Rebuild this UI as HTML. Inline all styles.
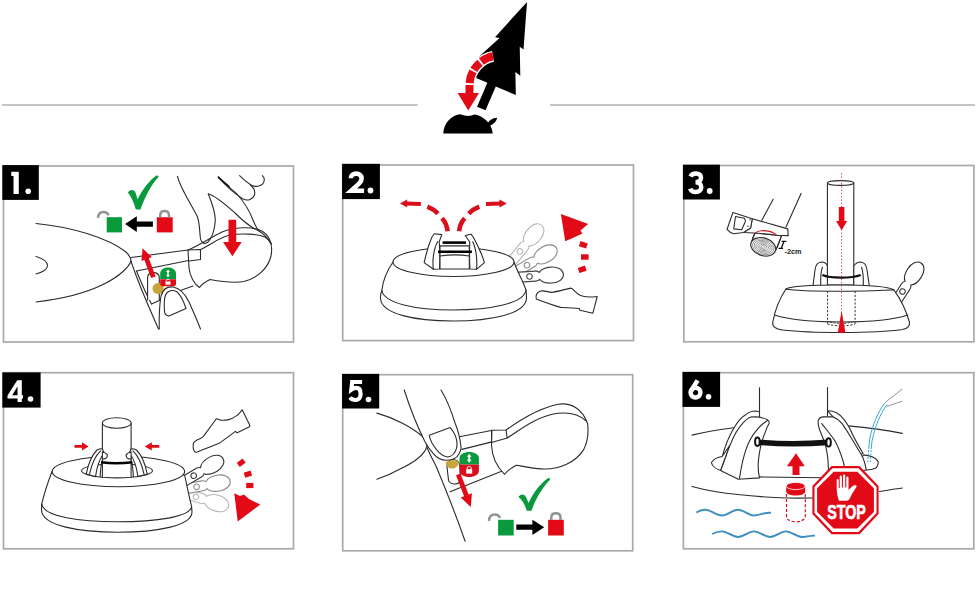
<!DOCTYPE html>
<html>
<head>
<meta charset="utf-8">
<style>
html,body{margin:0;padding:0;background:#fff;}
body{width:977px;height:598px;overflow:hidden;font-family:"Liberation Sans",sans-serif;}
svg{display:block;}
.num{font-family:"Liberation Sans",sans-serif;font-weight:bold;fill:#fff;font-size:30px;}
.ln{fill:none;stroke:#2b2b2b;stroke-width:1.1;stroke-linecap:round;stroke-linejoin:round;}
.lw{fill:#fff;stroke:#2b2b2b;stroke-width:1.1;stroke-linecap:round;stroke-linejoin:round;}
.box{fill:none;stroke:#a9a9a9;stroke-width:1.7;}
.red{fill:#e30a17;}
</style>
</head>
<body>
<svg width="977" height="598" viewBox="0 0 977 598">
<defs><path id="lev" d="M-5,14 L-5,-6 C-5,-8 -4.5,-9 -3.5,-10 C-7,-12.5 -8,-17 -8,-22 C-8,-29 -4.5,-34 0,-34 C4.5,-34 8,-29 8,-22 C8,-17 7,-12.5 3.5,-10 C4.5,-9 5,-8 5,-6 L5,14"/></defs>
<!-- HEADER -->
<g id="header">
<line x1="2" y1="105" x2="417.5" y2="105" stroke="#c4c4c4" stroke-width="2"/>
<line x1="550" y1="105" x2="975" y2="105" stroke="#c4c4c4" stroke-width="2"/>
<g transform="translate(481.2,108.5) rotate(23.27)">
<polygon fill="#000" points="0,-116 15.5,-71 11,-72 23,-45.5 17,-47 26.5,-26 4.7,-26 4.7,0 -4.5,0 -4.5,-26 -26.5,-26 -17,-47 -23,-45.5 -11,-72 -15.5,-71"/>
</g>
<path d="M443.2,133.5 C444,122 452,115 460.3,114.2 Q468,117.5 474.7,114.5 C484,116 492,124 492.7,133.5 Z" fill="#000"/>
<path d="M486.5,125.5 C488.5,120.5 492.5,118 497.2,117.8 C496.5,121.5 493,124.8 488,126.5 Z" fill="#000"/>
<path d="M493,56.3 C481,58.5 470,70 469.5,84 L469.5,92" fill="none" stroke="#fff" stroke-width="11"/>
<path d="M493,56.3 C481,58.5 470,70 469.5,84 L469.5,94" fill="none" stroke="#e30a17" stroke-width="8" stroke-dasharray="12.85 1.8 9.45 1.8 12.2 1.8 30 0"/>
<polygon class="red" points="457.6,93 479,93 468.3,110.6"/>
</g>

<!-- PANEL BORDERS -->
<rect class="box" x="3.5" y="166" width="290" height="176"/>
<rect class="box" x="342.7" y="165" width="290.8" height="175.6"/>
<rect class="box" x="683.9" y="165.5" width="290" height="176.3"/>
<rect class="box" x="3.5" y="372.7" width="290" height="176.1"/>
<rect class="box" x="342.7" y="374.7" width="290" height="176.1"/>
<rect class="box" x="683.4" y="372.7" width="290.4" height="176.1"/>

<!-- NUMBER BOXES -->
<rect x="2.3" y="165.1" width="36.5" height="34.8" fill="#000"/>
<path d="M11.3,171.7 L18.8,171.7 L18.8,193.9 L13.5,193.9 L13.5,176 L11.3,176 Z" fill="#fff"/>
<circle cx="28.2" cy="191.2" r="2.8" fill="#fff"/>
<rect x="342.1" y="163.8" width="37.8" height="35.3" fill="#000"/>
<path d="M350.8,178.2 C350.8,175 353.2,173.6 356.2,173.6 C359.5,173.6 361.6,175.5 361.6,178.5 C361.6,181.5 359.5,183.5 351.2,190.8 L364.1,190.8" fill="none" stroke="#fff" stroke-width="4.6"/>
<circle cx="370.5" cy="190.5" r="2.9" fill="#fff"/>
<rect x="682.9" y="164.7" width="37" height="34.8" fill="#000"/>
<path d="M690.5,176.5 C691.5,174.2 693.5,173.4 696,173.4 C699,173.4 701,175 701,177.8 C701,180.5 698.8,182.2 695.5,182.2 M695.5,182.2 C699.2,182.2 701.3,184.5 701.3,187.3 C701.3,190.2 699,192 695.8,192 C693,192 690.9,190.8 690.2,188.6" fill="none" stroke="#fff" stroke-width="4.5"/>
<circle cx="709.7" cy="191" r="2.9" fill="#fff"/>
<rect x="2.3" y="372.4" width="38.3" height="35.2" fill="#000"/>
<path fill-rule="evenodd" d="M17.2,380.2 L21.8,380.2 L21.8,395.2 L23,395.2 L23,398.6 L21.8,398.6 L21.8,402 L17.5,402 L17.5,398.6 L7.5,398.6 L7.5,395.4 Z M17.5,386.5 L12.2,395.2 L17.5,395.2 Z" fill="#fff"/>
<circle cx="30.5" cy="399" r="2.8" fill="#fff"/>
<rect x="342.1" y="373.9" width="37.1" height="34.6" fill="#000"/>
<path d="M362.1,382 L352.2,382 L351.4,389.5 C353,388.3 354.8,387.8 356.3,387.8 C359.3,387.8 360.6,390.3 360.6,394 C360.6,397.7 358.6,400 355.6,400 C353,400 351.2,399 350,397.5" fill="none" stroke="#fff" stroke-width="4.2"/>
<circle cx="368.5" cy="399.5" r="2.8" fill="#fff"/>
<rect x="682.5" y="371.9" width="37.6" height="35" fill="#000"/>
<circle cx="695.5" cy="392.6" r="4.9" fill="none" stroke="#fff" stroke-width="4.5"/>
<path d="M697.6,380.4 L691.2,390.8" fill="none" stroke="#fff" stroke-width="4.5"/>
<circle cx="708.5" cy="396.7" r="2.8" fill="#fff"/>

<!-- PANELS -->
<g id="p1">
<!-- lens -->
<path class="ln" d="M36,223.5 C72,227 108,238 126,252 C129,255 131,258 131,261 C129,267 120,276 104,284 C86,293 62,299 36,302"/>
<path class="ln" d="M36,256.5 C44,259 47.5,262.5 47.5,265.5 C47.5,268.5 43,272 36,274"/>
<!-- rails -->
<path class="ln" d="M131,257.5 L188,250"/>
<path class="ln" d="M136.5,271 L188.5,260.5"/>
<path class="ln" d="M131,261 C138,283 148,305 158.5,329"/>
<path class="ln" d="M136.5,271 C141,282 146,294 151.5,304"/>
<path class="ln" d="M151.5,304 L164,298.5"/>
<path class="ln" d="M179,291 L193,286"/>
<!-- paddle -->
<path class="lw" d="M188,250 C196,247 210,238 222,232 C234,227 252,226 262,231 C270,236 273,245 271,256 C268,268 258,278 244,281.5 C232,283.5 218,281 210,279.5 C205,282 201,285 199.5,287.5 C194,284 190,276 189,268 Z"/>
<path class="ln" d="M200.5,249.5 C212,244 220,237 230,235 C242,233 258,234 265,237 C268,239 270,241 271.5,244"/>
<path class="ln" d="M188,250 L200.5,249.5 L200.5,259.5 L189,261"/>
<!-- hand -->
<path class="ln" d="M177.4,176.4 C181,190 192,205 197.5,217 C200,225 199.5,232 200.5,239 C201.5,243.5 205,244.5 208,242 C212,238 214.5,230 215.3,221 C215.5,212 212,203 208.2,193.8 C216,196 226,205 235,213 C244,222 252,228 259,231 C264,234 268,238 271,244"/>
<path class="ln" d="M218.2,177 C226,185 234,191 237,194 C244,202 250,212 253,220 C255,225 257,229 259,231"/>
<path class="ln" d="M218.2,177 C225,185 235,194 243,199 C248,201.5 253,199 254.5,195 C255.5,191 253,187 250.3,185"/>
<path class="ln" d="M239.6,175.7 C244,180 248,183.5 252,185.5 C257,187.5 262,186 263.7,182.4 C264.5,180 264.5,177 262.4,175.7"/>
<path d="M218.6,177.4 L229,186.5" stroke="#111" stroke-width="1.5" stroke-linecap="round"/>
<!-- red arrow down -->
<path class="red" d="M228.5,219.8 L236.2,219.8 L236.2,241.9 L241.7,241.9 L232.4,256.2 L223,241.9 L228.5,241.9 Z"/>
<!-- slot + gold -->
<path class="lw" d="M147.6,300 L147.6,278 C147.6,274 150.5,272.6 153.4,272.6 C156.3,272.6 159.3,274 159.3,278 L159.3,300"/>
<circle cx="158.1" cy="288.5" r="5.6" fill="#c9a43b"/>
<!-- green/red slider -->
<path d="M160.2,279.3 L160.2,273.5 C160.2,270 163.5,267.6 168,267.6 C172.5,267.6 176,270 176,273.5 L176,279.3 Z" fill="#089a3d"/>
<path d="M160.2,279.3 L176,279.3 L176,284 C176,285.5 174.5,286.3 173,286.3 L163,286.3 C161.5,286.3 160.2,285.5 160.2,284 Z" fill="#e30a17"/>
<path d="M168,269.5 L170,272 L168.8,272 L168.8,275 L170,275 L168,277.5 L166,275 L167.2,275 L167.2,272 L166,272 Z" fill="#fff"/>
<rect x="165.5" y="281.5" width="5" height="3.2" fill="#fff"/>
<path d="M166.3,281.5 L166.3,280.3 C166.3,279 169.7,279 169.7,280.3" fill="none" stroke="#fff" stroke-width="0.9"/>
<!-- red arrow up-left -->
<g transform="translate(142.6,248.2) rotate(-20.3)"><path class="red" d="M0,0 L5.5,11.5 L2.4,11.5 L2.4,31 L-2.4,31 L-2.4,11.5 L-5.5,11.5 Z"/></g>
<!-- thumb -->
<path class="lw" d="M159.3,329 C159,318 159.5,305 161,296 C163,289 168,286.5 173,287 C180,288 185,294 189,302 C193,311 197,320 200.5,329"/>
<path class="ln" d="M164.5,311 C164,304 164,299 165.5,295 C167.5,290.5 172.5,289.5 176.5,291.5 C180,294 183.5,301 186,308.5 L169,316 C166,315.5 164.5,314 164.5,311 Z"/>
<!-- check -->
<path d="M128,192.5 C129.5,189.5 133.5,189 135.5,192.5 L137.5,199.5 C142,190 149,181 156,175.8 C157.5,174.8 159,175.8 158.3,177.3 C151,185 145,197 140.5,209.5 L135.8,209.5 C134,203 131.5,197 128,192.5 Z" fill="#089a3d"/>
<!-- open lock green -->
<rect x="106.7" y="217.2" width="15.3" height="15.2" fill="#089a3d"/>
<path d="M98,217.8 C98.3,213.8 100.5,212 103.3,212 C106,212 107.8,213.2 108.6,215.2" fill="none" stroke="#939393" stroke-width="2.5"/>
<!-- black arrow left -->
<path d="M152.9,221.5 L136.8,221.5 L136.8,216.3 L125,224.1 L136.8,232 L136.8,226.8 L152.9,226.8 Z" fill="#000"/>
<!-- red lock -->
<rect x="156.8" y="217.2" width="15.9" height="15.2" fill="#e30a17"/>
<path d="M160.2,217.5 L160.2,215.5 C160.2,212 162,211 164.6,211 C167.2,211 169,212 169,215.5 L169,217.5" fill="none" stroke="#939393" stroke-width="2.5"/>
</g>
<g id="p2">
<!-- levers (behind stand) -->
<g transform="translate(520.0,251.4) rotate(39.5)"><use href="#lev" fill="#fff" stroke="#b5b5b5" stroke-width="1.1"/><circle cx="0" cy="0" r="2.8" fill="none" stroke="#b5b5b5" stroke-width="1.1"/></g>
<g transform="translate(527.0,265.2) rotate(59.8)"><use href="#lev" fill="#fff" stroke="#8a8a8a" stroke-width="1.1"/><circle cx="0" cy="0" r="2.8" fill="none" stroke="#8a8a8a" stroke-width="1.1"/></g>
<g transform="translate(529.5,276.5) rotate(86.3)"><use href="#lev" fill="#fff" stroke="#444" stroke-width="1.1"/><circle cx="0" cy="0" r="2.8" fill="none" stroke="#444" stroke-width="1.1"/></g>
<!-- stand -->
<path class="lw" d="M393,262 C387.5,270 383,280 381.8,290.5 C380.5,294 380.3,297 380.6,299 C382,314 415,321 453,321 C491,321 526,314 526.5,298 C526.5,295 526.3,292.5 526,290 C523,281 517,271 514,262 Z"/>
<ellipse class="lw" cx="453.5" cy="262" rx="60.5" ry="14.5"/>
<path class="ln" d="M381.8,290.5 C384,303 415,310 453,310 C491,310 524,303.5 526,290"/>
<!-- clamp -->
<path class="lw" d="M424.2,262.6 C426,254 429,244 431.7,237.5 L434.2,233.8 L441.8,234.6 L439.2,241.7 C440,250 440,262 439.5,269 L433.4,269.3 Z"/>
<path class="lw" d="M484.4,262.6 C482,254 477,244 473.5,237.5 L471,234.2 L465.2,235.5 L469.8,242 C469.5,250 469.5,262 470,269 L476.5,269.3 Z"/>
<path class="lw" d="M440,245.9 L469.3,245.9 L469.3,269 L440,269 Z"/>
<path class="ln" d="M440,256 C450,254.5 460,254.5 469.3,256"/>
<path class="ln" d="M433.4,269.3 C432,260 434,248 437.6,241.7"/>
<path class="ln" d="M476.5,269.3 C477.5,260 476,248 472.7,241.7"/>
<path d="M442.6,242.6 L466,242.6" stroke="#000" stroke-width="2.6"/>
<path d="M438,251.8 L471.9,251.8" stroke="#000" stroke-width="2.6"/>
<!-- red dashed arcs -->
<g fill="none" stroke="#d9101c" stroke-width="4.6">
<path d="M447.6,231.2 C447,226 445,221.5 442,218.3"/>
<path d="M438,213.6 C435,210.6 431.5,208.4 427.4,206.7"/>
<path d="M420.8,204 L406,203.6" stroke-width="4"/>
<path d="M459.1,231.2 C459.7,226 461.7,221.5 464.7,218.3"/>
<path d="M468.7,213.6 C471.7,210.6 475.2,208.4 479.3,206.7"/>
<path d="M485.9,204 L500.7,203.6" stroke-width="4"/>
</g>
<polygon fill="#d9101c" points="399.9,203.6 407.2,199.6 407.2,207.6"/>
<polygon fill="#d9101c" points="506.8,203.6 499.5,199.6 499.5,207.6"/>
<!-- shoe -->
<path class="lw" d="M536.3,299 C535.5,296 536.5,293 539.9,291.3 C543,290 547,291.8 551.3,292.4 C558,291.5 564,289.5 570.7,288.1 C572,288.2 573.5,289.5 575,291.3 C577,293.5 579.5,295.2 582.1,296 C585.5,297 589,297.2 592.9,297 L597.2,296.5 L592.9,313.2 L580,310.3 L579.3,308.5 C573,307.8 566,307.6 560.7,307.4 C552,305 544,302 536.3,299 Z"/>
<!-- red curved arrow -->
<g fill="#e30a17">
<rect x="-3.8" y="-2.7" width="7.6" height="5.4" transform="translate(582.2,269.3) rotate(-18)"/>
<rect x="-3.8" y="-2.7" width="7.6" height="5.4" transform="translate(584.8,257) rotate(0)"/>
<rect x="-3.8" y="-2.7" width="7.6" height="5.4" transform="translate(583.3,244.8) rotate(18)"/>
<polygon points="560.9,214 588.2,223.9 580.4,230.4 582.4,233.6 575,237 565.2,241.3"/>
</g>
</g>
<g id="p3">
<!-- saw & log -->
<path class="ln" d="M773.2,199.3 L761.8,220.2"/>
<path class="ln" d="M801.1,193.4 L786,226.9"/>
<path class="lw" d="M755,233 C753,237 752,240 751.5,243 L776,250 C777.5,246 779.5,241 781.6,235.6 Z" stroke="none"/>
<path class="ln" d="M755,233 C753.5,236 752.5,238.5 752,241"/>
<path class="ln" d="M781.6,235.6 C780,240 778.5,244 777.1,247.5"/>
<g transform="translate(763.2,246.8) rotate(18)">
<ellipse cx="0" cy="0" rx="12.8" ry="8.8" fill="#fff" stroke="#333" stroke-width="1.2"/>
<ellipse cx="0" cy="0" rx="11" ry="7.5" fill="none" stroke="#8a8a8a" stroke-width="0.8"/>
<ellipse cx="0" cy="0" rx="9.2" ry="6.2" fill="none" stroke="#8a8a8a" stroke-width="0.8"/>
<ellipse cx="0" cy="0" rx="7.4" ry="5" fill="none" stroke="#8a8a8a" stroke-width="0.8"/>
<ellipse cx="0" cy="0" rx="5.5" ry="3.7" fill="none" stroke="#8a8a8a" stroke-width="0.8"/>
<ellipse cx="0" cy="0" rx="3.7" ry="2.5" fill="none" stroke="#8a8a8a" stroke-width="0.8"/>
<ellipse cx="0" cy="0" rx="1.9" ry="1.3" fill="none" stroke="#8a8a8a" stroke-width="0.8"/>
</g>
<path class="lw" d="M752.3,218.7 L787.8,228.9 L788.2,235.6 L777.1,235.3 C770,234.3 760,233.2 743.5,232.5 L750.6,228 Z"/>
<path class="lw" d="M732.9,212.5 L752.3,218.7 L750.6,228 L743.5,232.5 L733.7,233.8 C730.5,232.8 728.5,231.2 727,229.4 Z"/>
<path class="ln" d="M735.5,216.5 L744.4,218.3 C745.5,220 745.3,222 744.8,222.7 L741.7,229.8 L733.7,228.9 Z"/>
<circle cx="750.1" cy="219.8" r="0.7" fill="#333"/>
<circle cx="747.9" cy="226.3" r="0.7" fill="#333"/>
<path d="M755.4,232.9 C757,231.6 759,230.8 761.2,230.7 C763.5,230.5 766,230.6 768.3,231.1 C770.5,231.6 772.2,232.2 773.6,232.9 C775,233.8 776,234.6 777.1,235.6" fill="none" stroke="#d20f1c" stroke-width="1.1"/>
<path d="M781.6,241.3 L786.4,241.3 M784,241.3 L781.2,248.4 M778.5,248.4 L783,248.4" fill="none" stroke="#111" stroke-width="1.3"/>
<text x="784.6" y="253.6" font-family="Liberation Sans, sans-serif" font-size="8" font-weight="bold" fill="#222" textLength="17" lengthAdjust="spacingAndGlyphs">-2cm</text>
<!-- trunk -->
<rect x="827.4" y="183" width="26.4" height="102" fill="#fff" stroke="#2b2b2b" stroke-width="1.1"/>
<ellipse cx="840.6" cy="183" rx="13.2" ry="2.4" fill="#fff" stroke="#2b2b2b" stroke-width="1.1"/>
<!-- clamp jaws -->
<path class="lw" d="M812.9,286.3 L815,270 C815.5,265 818,262.2 821.5,262 C824,262 826.5,263.5 827.4,266 L827.4,286.3 Z"/>
<path class="ln" d="M820.7,286.3 C820.5,278 821,271 822.4,267.2"/>
<path class="lw" d="M869.4,286.3 L867,270 C866.5,265 864,262.2 860.5,262 C858,262 855.5,263.5 853.8,266 L853.8,286.3 Z"/>
<path class="ln" d="M863.3,286.3 C863.5,278 863,271 861.6,267.2"/>
<!-- lever -->
<g transform="translate(902.5,291.5) rotate(33.0)"><use href="#lev" fill="#fff" stroke="#2b2b2b" stroke-width="1.1"/><circle cx="0" cy="0" r="2.8" fill="none" stroke="#2b2b2b" stroke-width="1.1"/></g>
<!-- stand -->
<path class="lw" d="M785.9,289 C780,298 775,310 772.8,322 C772,326 775,329 782.4,330 C800,332 820,332.5 841.6,332.5 C865,332.5 885,332 902.5,329.5 C908,328.5 910,326 909.4,322 C906,310 900,298 893.8,289.8 Z"/>
<path class="lw" d="M785.9,289 C790,286.5 810,285 840,285 C870,285 888,286.5 893.8,289.8 C880,291 860,291.2 840,291.2 C815,291.2 795,290.8 785.9,289 Z"/>
<path class="ln" d="M774.6,315 C790,320 815,322 841.6,322 C868,322 893,320 907.7,315"/>
<!-- dashed trunk inside -->
<path d="M827.6,291 L827.6,324 M855.1,291 L855.1,324" fill="none" stroke="#333" stroke-width="1" stroke-dasharray="2.2 1.6"/>
<path d="M827.6,324 C835,326.5 848,326.5 855.1,324" fill="none" stroke="#333" stroke-width="1" stroke-dasharray="2.2 1.6"/>
<path d="M830,322 C838,324 846,324 852,322" fill="none" stroke="#333" stroke-width="0.9" stroke-dasharray="2 1.5"/>
<!-- wire -->
<path d="M822.4,275 C830,278.5 852,278.5 860.7,275" fill="none" stroke="#111" stroke-width="2.2"/>
<!-- red center line & arrows -->
<path d="M841.6,173 L841.6,333" stroke="#e5303c" stroke-width="0.9" stroke-dasharray="1.5 1.8"/>
<path class="red" d="M838.8,207 L844.4,207 L844.4,221 L847.2,221 L841.6,230.3 L836,221 L838.8,221 Z"/>
<polygon class="red" points="841.6,310.7 845.4,332.8 837.8,332.8"/>
</g>
<g id="p4">
<!-- levers -->
<g transform="translate(196.0,496.8) rotate(107.0)"><use href="#lev" fill="#fff" stroke="#b8b8b8" stroke-width="1.1"/><circle cx="0" cy="0" r="2.8" fill="none" stroke="#b8b8b8" stroke-width="1.1"/></g>
<g transform="translate(196.6,486.8) rotate(80.3)"><use href="#lev" fill="#fff" stroke="#8a8a8a" stroke-width="1.1"/><circle cx="0" cy="0" r="2.8" fill="none" stroke="#8a8a8a" stroke-width="1.1"/></g>
<g transform="translate(193.7,475.7) rotate(59.5)"><use href="#lev" fill="#fff" stroke="#333" stroke-width="1.1"/><circle cx="0" cy="0" r="2.8" fill="none" stroke="#333" stroke-width="1.1"/></g>
<!-- stand -->
<path class="lw" d="M52.2,471 C48,482 44,494 41.7,504.2 L41.5,510 C42,526 80,532.3 118,532.3 C156,532.3 192,526 192,512 L191.6,506.6 C189,496 187,486 184.6,475 Z"/>
<ellipse class="lw" cx="118.4" cy="471.5" rx="66.2" ry="15.3"/>
<path class="ln" d="M41.7,504.2 C44,517 80,521.8 118,521.8 C156,521.8 190,517 191.6,506.6"/>
<!-- opening -->
<ellipse class="lw" cx="117" cy="470.8" rx="35.5" ry="7.1"/>
<rect x="102.4" y="423" width="28.7" height="54" fill="#fff"/>
<path class="ln" d="M102.4,423 L102.4,477.6 M131.1,423 L131.1,477.6"/>
<ellipse cx="116.75" cy="423" rx="14.35" ry="5.2" fill="#fff" stroke="#2b2b2b" stroke-width="1.1"/>
<!-- jaws -->
<path class="lw" d="M86.3,474 C88,465 92,455 97,450 C98.5,449 100,448.7 102.4,448.7 L104.2,453 C100,458 97,466 95.5,476.6 Z"/>
<path class="lw" d="M147.2,474 C145.5,465 141.5,455 136.5,450 C135,449 133.5,448.7 131.1,448.7 L129.3,453 C133.5,458 136.5,466 138,476.6 Z"/>
<path class="ln" d="M89.6,473.6 C91.5,465 95,456 100.6,450.8"/>
<path class="ln" d="M143.9,473.6 C142,465 138.5,456 132.9,450.8"/>
<path class="lw" d="M102.4,451.8 C104,452.3 106,453.3 107.2,454.5 C107.6,456 107,457.6 105.5,458.6 L102.4,459.2 Z"/>
<path class="lw" d="M131.1,451.8 C129.5,452.3 127.5,453.3 126.3,454.5 C125.9,456 126.5,457.6 128,458.6 L131.1,459.2 Z"/>
<path class="ln" d="M100.2,476.6 C100.4,470 101,465 102.4,461"/>
<path class="ln" d="M133.3,476.6 C133.1,470 132.5,465 131.1,461"/>
<path d="M101.1,462.2 C110,463.4 123,463.4 132.4,462.2" fill="none" stroke="#000" stroke-width="2.6"/>
<!-- red arrows -->
<path class="red" d="M74.5,445 L82,445 L82,442.2 L88.5,446.4 L82,450.6 L82,447.8 L74.5,447.8 Z"/>
<path class="red" d="M159.3,445 L151.8,445 L151.8,442.2 L144.8,446.4 L151.8,450.6 L151.8,447.8 L159.3,447.8 Z"/>
<!-- shoe -->
<path class="lw" d="M193.4,443 C193,446 193.5,450 194.3,451.2 C195,452.3 196,452.4 197,452.1 C204,449.5 211,446.5 218.7,443.6 C224,440 230,435.5 235.4,431.4 L237.2,432.7 L249.4,426.8 L249.9,425.5 L242.2,409.7 C240,412.5 238.5,414.5 236.8,415.6 C234,417.5 231.5,419 228.7,419.6 C225.5,420.3 223,420.4 220.5,420.1 C219,419.8 218,419 216.9,418.7 C216,418.8 215.5,419.5 215.1,420.5 C211,426 207,431.5 203.4,436.3 C201,438.5 199,439.5 197,440 C195.3,441 194,442 193.4,443 Z"/>
<!-- red dashed + arrowhead -->
<g fill="#e30a17">
<rect x="-3.6" y="-2.6" width="7.2" height="5.2" transform="translate(241.2,462.7) rotate(-35)"/>
<rect x="-3.6" y="-2.6" width="7.2" height="5.2" transform="translate(247.9,474.2) rotate(-18)"/>
<rect x="-3.6" y="-2.6" width="7.2" height="5.2" transform="translate(249.8,485.5) rotate(0)"/>
<polygon points="234.3,493.2 240,496 244,494.5 249,499 260.3,504.5 237.7,521.4"/>
</g>
</g>
<g id="p5">
<!-- lens -->
<path class="ln" d="M376.9,413.1 C395,418 413,428 422,436 C425,439 427,443 426.8,447 C424,455 413,463 400,469 C392,473.5 384,477 376.9,479.3"/>
<!-- long rail lines -->
<path class="ln" d="M426.8,447 C430,455 434,462 436,466 C446,490 456,515 465.1,541.3"/>
<!-- lever arm rails -->
<path class="ln" d="M459.4,436.8 L491.5,430.5"/>
<path class="ln" d="M461.9,449.4 L492,441.9"/>
<path class="ln" d="M450,491.7 L502.3,471"/>
<!-- paddle -->
<path class="lw" d="M491.7,430.2 L506,430 C516,423 534,410 557.8,404.3 C572,402 583,410 587.6,423.7 C589,435 587,443 583.7,449.6 C576,462 560,469 544.8,469 C535,469 524,466.5 516.3,465.2 C511,468 507,471 504.6,474.3 C498,468 492,458 491.5,445 Z"/>
<path class="ln" d="M507.2,438 C520,430 537,416 557.8,413.3 C570,412 580,415 586.3,421"/>
<path class="ln" d="M491.7,430.2 L491.5,442.5 L507.2,438 L506,430"/>
<!-- gold, slot -->
<path class="lw" d="M448.5,480 L447,467 C446.5,462 449.5,459.5 453,459.5 C456.5,459.5 459.5,462 459.8,466 L460.5,478 C460.5,482 458,484 455,484 C451.5,484 449,482.5 448.5,480 Z"/>
<path d="M445.8,462 C449,460 455,459.8 458.6,461.5 C459,465.5 456,468.6 452.2,468.6 C448.5,468.6 445.8,466 445.8,462 Z" fill="#c9a43b"/>
<!-- finger -->
<path class="lw" d="M404.2,390 C410,408 418,428 425.1,441.9 C428,447 431,451 433.4,453.6 C437,458 442,460.5 446.8,460.3 C451,460 455,458.5 456.9,456.9 C460,453 461.5,450 461,446.9 C460,438 458,430 455.2,423.5 C451,410 446,398 441,390"/>
<path class="ln" d="M429.3,435.2 L450.2,427.6 C454,432 457,438 457,444 C457,452 452,457 447,457 C441,456 436,450 432,443 C430.5,440 429.5,437.5 429.3,435.2 Z"/>
<!-- green/red slider -->
<path d="M459.5,464.4 L459.5,458 C459.5,454.5 464,452 469.2,452 C474.4,452 478.9,454.5 478.9,458 L478.9,464.4 Z" fill="#089a3d"/>
<path d="M459.5,464.4 L478.9,464.4 L478.9,471 C478.9,474.5 474.4,477 469.2,477 C464,477 459.5,474.5 459.5,471 Z" fill="#d9101c"/>
<path d="M469.2,453.8 L471.6,456.8 L470.2,456.8 L470.2,459.8 L471.6,459.8 L469.2,462.8 L466.8,459.8 L468.2,459.8 L468.2,456.8 L466.8,456.8 Z" fill="#fff"/>
<rect x="466.2" y="469.2" width="6" height="4.4" fill="#fff"/>
<path d="M467.2,469.2 L467.2,467.8 C467.2,466 471.2,466 471.2,467.8 L471.2,469.2" fill="none" stroke="#fff" stroke-width="1"/>
<!-- red arrow -->
<g transform="translate(470.8,507) rotate(159)"><path class="red" d="M0,0 L6,12.5 L2.4,12.5 L2.4,35 L-2.4,35 L-2.4,12.5 L-6,12.5 Z"/></g>
<!-- check -->
<path d="M518.5,497 C520,494 524,493.5 526,497 L528.6,503 C533,493 540,484 547.5,478.5 C549,477.5 550.5,478.5 549.8,480 C542,488 535.5,499 531.5,510.8 L526.8,510.8 C525,505 522.5,500 518.5,497 Z" fill="#089a3d"/>
<!-- open green lock -->
<rect x="498.1" y="519.8" width="15.6" height="15.7" fill="#089a3d"/>
<path d="M489,521 C489.2,516.5 491.5,514.6 494.6,514.6 C497.3,514.6 499.2,515.8 500,518" fill="none" stroke="#939393" stroke-width="2.5"/>
<!-- black arrow right -->
<path d="M516.3,524.6 L532.4,524.6 L532.4,519.8 L544.2,527.2 L532.4,535 L532.4,529.8 L516.3,529.8 Z" fill="#000"/>
<!-- red lock -->
<rect x="548.1" y="519.8" width="15.7" height="15.7" fill="#e30a17"/>
<path d="M551.3,520 L551.3,517.5 C551.3,514.2 553.3,513.3 555.9,513.3 C558.5,513.3 560.5,514.2 560.5,517.5 L560.5,520" fill="none" stroke="#939393" stroke-width="2.5"/>
</g>
<g id="p6">
<!-- stand lines -->
<path class="ln" d="M692,435.1 C705,432 720,429.5 734.1,427.7"/>
<path class="ln" d="M848.2,425.9 C865,427.5 885,430 902.3,433.4"/>
<path class="ln" d="M692,486.5 C705,490 720,493 737.7,494.5 C755,496.5 770,497.5 786.9,498 C805,498.3 815,498 825,497.5"/>
<path class="ln" d="M879.5,491.5 C887,490 895,489 902.3,488"/>
<!-- trunk lines -->
<path class="ln" d="M759.5,387.8 L759.5,415"/>
<path class="ln" d="M827.5,387.5 L827.5,416"/>
<!-- bottom line between jaws -->
<path class="ln" d="M737.7,477.8 C745,477.2 752,477 758.8,476.9 L822,477.8 L828.6,478"/>
<!-- left jaw -->
<path class="lw" d="M722.1,457.1 C725,446 729,436 734.1,427.7 C738,421 742,416.5 746.1,414.4 C749,412 752,411 755.5,411 L759.5,411.7 L759.5,420 L751.5,417 Z"/>
<path class="lw" d="M711.4,462.5 C714,459 718,457 722.1,456.5 L730,445 L720.7,470.5 C716,469 712,466 711.4,462.5 Z"/>
<path class="lw" d="M720.7,470.5 C724,462 727,453 730.1,445.1 C734,435 739,427 743.5,422.4 C746,419.5 748.5,417.5 751.5,417 C757,416.5 763,417.5 767.5,419.7 C769,421 769.5,422.5 768.9,423.7 C767,427 766,430 764.9,433.1 C763,438 761.5,442 760.9,445.1 C759.5,452 758.5,458 758.2,463.8 C758,469 758.5,474 759.5,477.9 L738.1,479.2 C732,476 726,473.5 720.7,470.5 Z"/>
<path class="ln" d="M739.5,478.5 C741,468 743,458 746.1,449.1 C749,441 752,436 755.5,431.7 C759,427 763,423 767.5,420.4"/>
<!-- right jaw -->
<path class="lw" d="M827.5,410.8 C830,411 833,411.3 836.1,412.4 C839,414 841.5,416 843.6,419.1 C846,422 848,425 849.7,428.2 C853,436 858,445 863.2,453.7 L850,455 L833.1,416.9 Z"/>
<path class="lw" d="M863.2,455.2 C866,455 869,455.5 872.2,456.7 C875,458 877.5,460 878.3,462 C878.5,465 877,467 876,468 C873,469.5 870,470 866.2,470 L858,465 Z"/>
<path class="lw" d="M818.1,420.6 C819,418.5 820.5,417.2 822.6,416.9 L833.1,416.9 C836.5,418 839.5,420.5 842.1,423.6 C845.5,428.5 849,434 852.7,440.2 C855.5,445 858.5,450 861.7,455.2 C863.5,458.5 865,462 866.2,470 L828.6,478 C828.5,471 828.3,464 827.8,458.3 C827,452 826,447 824.8,443.2 C823,438 821.5,434 819.6,429.7 C818.5,426.5 817.8,423 818.1,420.6 Z"/>
<path class="ln" d="M821.8,423.6 C826,429 830.5,434.5 834.6,440.2 C838,446 841,454 843.6,462.8 C844.5,467 845,471 845.5,475"/>
<!-- wire -->
<path d="M758,442.2 C780,444.2 805,444.2 828,442.4" fill="none" stroke="#111" stroke-width="5.6" stroke-linecap="round"/>
<ellipse cx="757.4" cy="441.8" rx="2.3" ry="4.2" fill="#fff" stroke="#111" stroke-width="2"/>
<ellipse cx="828.6" cy="442.4" rx="2.2" ry="4.2" fill="#fff" stroke="#111" stroke-width="2"/>
<!-- red arrow up -->
<path class="red" d="M796,453.2 L804.8,466.3 L799.5,466.3 L799.5,475.1 L792.5,475.1 L792.5,466.3 L786.9,466.3 Z"/>
<!-- red plug -->
<path d="M786.2,486 L786.2,491.5 C786.2,494 791,495.5 795.7,495.5 C800.4,495.5 805.2,494 805.2,491.5 L805.2,486 Z" fill="#e30a17"/>
<ellipse cx="795.7" cy="486" rx="9.5" ry="3.6" fill="#e30a17" stroke="#fff" stroke-width="0.8"/>
<path d="M786.5,494 L786.5,516 C786.5,520 791,521.8 795.7,521.8 C800.4,521.8 805.3,520 805.3,516 L805.3,494" fill="none" stroke="#e30a17" stroke-width="1.2" stroke-dasharray="3 2"/>
<!-- waves -->
<path d="M696.4,512.5 C700,510 703,509.6 706,509.8 C712,510.5 716,515.5 722,515.5 C728,515.5 732,509.8 738,509.8 C744,509.8 748,515.5 754,515.5 C760,515.5 764,512 771,512.8" fill="none" stroke="#3d8fc2" stroke-width="1.9"/>
<path d="M712.2,534 C716,532 719,531.4 722,531.4 C728,531.4 732,537 738,537 C744,537 748,531.4 754,531.4 C760,531.4 764,537 770,537 C776,537 780,531.4 786,531.4 C792,531.4 796,537 802,537 C808,537 811,535 815,535.7" fill="none" stroke="#3d8fc2" stroke-width="1.9"/>
<!-- hose -->
<path d="M885,402.6 C878,412 872,426 869.5,440 L868.8,449" fill="none" stroke="#3aa6d8" stroke-width="1"/>
<path d="M887,404.5 C880,414 875,427 872,441 L871.2,449" fill="none" stroke="#3aa6d8" stroke-width="1"/>
<path d="M868.6,450 L867.7,462 M871.2,450 L870.3,462" fill="none" stroke="#3aa6d8" stroke-width="1" stroke-dasharray="2 1.5"/>
<path d="M885,402.6 L902.3,389 M886.8,406.5 L902.3,401.1" fill="none" stroke="#888" stroke-width="0.9"/>
<!-- STOP -->
<g transform="translate(845.5,500.1)">
<polygon points="-14,-34.1 14,-34.1 33.1,-14 33.1,14 14,34.1 -14,34.1 -33.1,14 -33.1,-14" fill="#e10a16"/>
<polygon points="-13,-31.9 13,-31.9 31,-13 31,13 13,31.9 -13,31.9 -31,13 -31,-13" fill="#fff"/>
<polygon points="-11.8,-28.4 11.8,-28.4 28.4,-11.8 28.4,11.8 11.8,28.4 -11.8,28.4 -28.4,11.8 -28.4,-11.8" fill="#e10a16"/>
<text x="-18.3" y="19.4" font-family="Liberation Sans, sans-serif" font-weight="bold" font-size="21" fill="#fff" stroke="#fff" stroke-width="0.7" textLength="38.5" lengthAdjust="spacingAndGlyphs">STOP</text>
<path d="M-6.5,0.7 C-8,-3 -8.8,-8 -8.8,-12 L-8.8,-20 C-8.8,-21.5 -6.8,-21.5 -6.8,-20 L-6.8,-12 L-5.8,-12 L-5.8,-23.5 C-5.8,-25 -3.6,-25 -3.6,-23.5 L-3.6,-12.5 L-2.5,-12.5 L-2.5,-24.6 C-2.5,-26 -0.3,-26 -0.3,-24.6 L-0.3,-12.5 L0.8,-12.5 L0.8,-22.5 C0.8,-24 3,-24 3,-22.5 L3,-10 C5,-12 7,-14.5 9.5,-15 C11,-15 11.5,-13.8 10.8,-12.8 C8,-9 6,-5 4,-1 C3,0.5 1,0.7 -1,0.7 Z" fill="#fff"/>
</g>
</g>
</svg>
</body>
</html>
